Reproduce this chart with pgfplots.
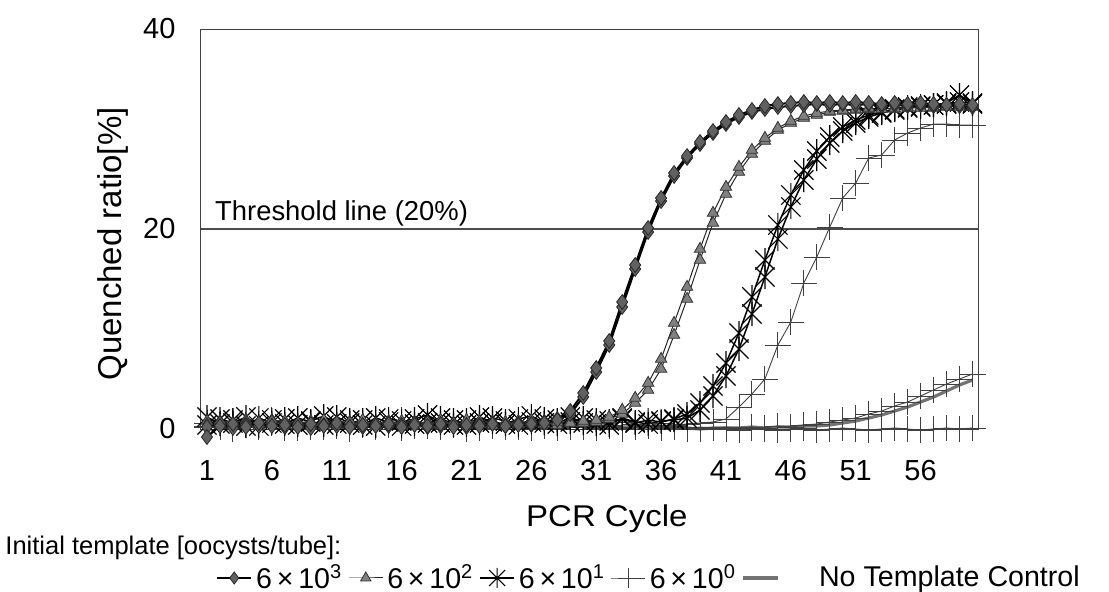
\documentclass[border=0pt]{standalone}
\usepackage{fontspec}
\setmainfont{Liberation Sans}
\usepackage{graphicx}
\usepackage{pgfplots}
\usepackage{pgfplotstable}
\pgfplotsset{compat=1.18}

\pgfdeclareplotmark{xstar}{%
  \pgfpathmoveto{\pgfqpoint{0pt}{\pgfplotmarksize}}%
  \pgfpathlineto{\pgfqpoint{0pt}{-\pgfplotmarksize}}%
  \pgfpathmoveto{\pgfqpoint{-.8\pgfplotmarksize}{.8\pgfplotmarksize}}%
  \pgfpathlineto{\pgfqpoint{.8\pgfplotmarksize}{-.8\pgfplotmarksize}}%
  \pgfpathmoveto{\pgfqpoint{-.8\pgfplotmarksize}{-.8\pgfplotmarksize}}%
  \pgfpathlineto{\pgfqpoint{.8\pgfplotmarksize}{.8\pgfplotmarksize}}%
  \pgfusepathqstroke}

\pgfplotstableread{
c D1 D2 T1 T2 S1 S2 P1 P2 P3 N
1 -0.8 0.2 0.5 0.8 1.2 0.4 0.6 0.3 0.2 0.3
2 0.3 0.6 0.8 0.4 0.5 1.0 0.2 0.5 0.5 0.4
3 0.5 0.1 0.3 0.6 0.9 0.6 0.8 0.1 0.0 0.3
4 0.2 0.4 0.7 0.9 0.3 1.2 0.4 0.4 0.4 0.5
5 0.6 0.3 0.5 0.3 1.1 0.3 0.5 0.2 0.3 0.4
6 0.3 0.7 0.9 0.6 0.6 0.9 0.9 0.6 0.6 0.3
7 0.4 0.2 0.4 0.8 1.0 0.5 0.3 0.3 0.1 0.4
8 0.2 0.5 0.6 0.4 0.4 1.1 0.7 0.1 0.4 0.5
9 0.5 0.1 0.8 0.5 0.8 0.7 0.4 0.5 0.2 0.3
10 0.3 0.4 0.3 0.9 1.3 0.4 0.6 0.2 0.5 0.4
11 0.6 0.3 0.7 0.4 0.5 1.2 0.8 0.4 0.3 0.4
12 0.2 0.6 0.5 0.6 0.9 0.6 0.3 0.3 0.0 0.3
13 0.4 0.2 0.9 0.7 0.4 0.9 0.5 0.6 0.4 0.5
14 0.3 0.5 0.4 0.3 1.1 0.3 0.7 0.2 0.2 0.4
15 0.5 0.3 0.6 0.8 0.7 1.0 0.4 0.4 0.6 0.3
16 0.2 0.4 0.8 0.5 0.3 0.8 0.9 0.1 0.1 0.4
17 0.4 0.6 0.5 0.6 1.0 0.5 0.5 0.5 0.3 0.5
18 0.3 0.2 0.7 0.4 1.4 0.6 0.3 0.3 0.5 0.4
19 0.5 0.3 0.4 0.9 0.6 1.1 0.7 0.2 0.2 0.3
20 0.2 0.5 0.6 0.5 0.9 0.4 0.6 0.6 0.4 0.4
21 0.4 0.2 0.9 0.6 0.4 0.9 0.4 0.4 0.0 0.5
22 0.3 0.4 0.5 0.8 1.2 0.6 0.8 0.1 0.3 0.3
23 0.5 0.6 0.7 0.4 0.7 1.1 0.5 0.3 0.5 0.4
24 0.3 0.3 0.4 0.7 0.5 0.8 0.3 0.5 0.2 0.4
25 0.4 0.5 0.8 0.5 1.0 0.4 0.6 0.2 0.4 0.3
26 0.5 0.4 0.6 0.9 1.3 0.7 0.7 0.4 0.1 0.4
27 0.6 0.7 0.5 0.6 0.6 1.0 0.4 0.3 0.3 0.3
28 0.9 1.0 0.7 0.4 0.9 0.5 0.5 0.1 0.6 0.4
29 1.8 1.5 0.6 0.7 0.7 1.2 0.8 0.5 0.2 0.3
30 3.6 3.2 0.8 0.6 1.1 0.6 0.3 0.2 0.4 0.3
31 6.1 5.7 0.9 0.7 0.5 0.9 0.6 0.4 0.1 0.2
32 8.8 8.4 1.2 1.0 0.8 0.4 0.4 0.3 0.3 0.3
33 12.7 12.2 1.9 1.5 1.0 1.1 0.7 0.1 0.0 0.2
34 16.4 16.0 3.1 2.6 0.6 0.7 0.5 0.2 0.2 0.2
35 20.1 19.7 4.6 3.9 0.9 0.5 0.3 0.3 0.4 0.1
36 23.1 22.8 7.0 6.0 0.7 0.8 0.6 0.1 0.1 0.2
37 25.6 25.3 10.6 9.4 1.0 0.9 0.4 0.2 0.3 0.1
38 27.3 27.1 14.2 13.0 1.5 1.1 0.5 0.1 0.0 0.1
39 28.7 28.5 18.0 16.9 2.6 1.9 0.6 0.0 0.2 0.0
40 29.8 29.6 21.6 20.6 4.3 3.3 0.7 0.1 0.1 0.1
41 30.7 30.5 24.2 23.5 6.6 5.3 1.0 0.2 0.0 0.1
42 31.4 31.2 26.2 25.7 9.6 8.0 2.2 0.1 -0.1 0.1
43 31.9 31.7 27.9 27.5 13.2 11.5 3.5 0.2 0.1 0.2
44 32.3 32.0 29.1 28.8 16.9 15.2 5.0 0.1 0.0 0.1
45 32.5 32.2 30.1 29.9 20.4 19.0 8.4 0.3 -0.1 0.2
46 32.6 32.3 30.8 30.6 23.4 22.2 10.7 0.2 0.0 0.2
47 32.7 32.4 31.3 31.1 25.9 24.9 14.6 0.4 0.1 0.3
48 32.6 32.5 31.6 31.4 27.8 27.0 17.2 0.5 -0.1 0.3
49 32.7 32.4 31.8 31.7 29.2 28.6 20.2 0.7 0.0 0.4
50 32.6 32.5 31.9 31.8 30.2 29.8 23.1 0.9 0.1 0.6
51 32.7 32.4 32.0 31.9 30.9 30.6 24.6 1.1 0.0 0.8
52 32.6 32.5 32.1 32.0 31.4 31.2 27.1 1.5 -0.1 1.1
53 32.5 32.3 32.0 32.1 31.7 31.6 27.4 1.8 0.0 1.4
54 32.6 32.4 32.1 32.0 32.0 31.9 28.9 2.3 0.1 1.8
55 32.5 32.3 32.2 32.1 32.2 32.1 29.6 2.7 0.0 2.2
56 32.6 32.4 32.1 32.2 32.3 32.2 30.1 3.3 -0.1 2.7
57 32.5 32.3 32.2 32.1 32.4 32.4 30.5 3.9 0.0 3.2
58 32.4 32.4 32.3 32.2 32.6 32.5 30.5 4.5 0.1 3.8
59 32.5 32.3 32.2 32.3 33.4 32.7 30.4 5.0 0.0 4.4
60 32.4 32.2 32.3 32.2 32.5 32.6 30.4 5.5 0.1 4.9
}\qpcr

\tikzset{
  dstyle/.style={black, line width=1bp, mark=diamond*, mark size=3.7bp,
    mark options={fill=black!62, draw=black!85, line width=0.4bp}},
  tstyle/.style={black!85, line width=0.5bp, mark=triangle*, mark size=3.3bp,
    mark options={fill=black!50, draw=black!80, line width=0.4bp}},
  sstyle/.style={black, line width=0.75bp, mark=xstar, mark size=6bp,
    mark options={line width=0.6bp}},
  pstyle/.style={black!75, line width=0.45bp, mark=+, mark size=6.5bp,
    mark options={line width=0.45bp}},
  nstyle/.style={black!55, line width=1.6bp},
}

\begin{document}
\begin{tikzpicture}
\useasboundingbox (0,0) rectangle (554.5bp,296bp);
\begin{axis}[
  at={(100.25bp,81.5bp)}, anchor=south west,
  scale only axis, width=389.25bp, height=200bp,
  xmin=0.5, xmax=60.5, ymin=0, ymax=40,
  xtick={1,6,...,56}, ytick={0,20,40},
  major tick length=0pt,
  axis line style={draw=black!75, line width=0.5bp},
  tick label style={font=\fontsize{14.5bp}{17bp}\selectfont},
  xticklabel style={yshift=-11.5bp, text height=10.5bp, text depth=0pt},
  yticklabel style={xshift=-9bp},
  /pgf/number format/assume math mode=true,
  clip=false,
  xlabel={\scalebox{1.1}[1]{PCR Cycle}},
  xlabel style={at={(axis description cs:0.522,-0.225)}, anchor=center,
    font=\fontsize{15bp}{18bp}\selectfont},
  ylabel={Quenched ratio[\%]},
  ylabel style={at={(axis description cs:-0.112,0.4625)}, anchor=center,
    font=\fontsize{16.5bp}{20bp}\selectfont},
  legend style={at={(axis description cs:0.012,-0.3725)}, anchor=west,
    draw=none, fill=none, font=\fontsize{14.3bp}{17bp}\selectfont,
    /tikz/every even column/.append style={column sep=1bp}},
  legend columns=-1,
]
\addlegendimage{dstyle, mark size=3bp}
\addlegendentry{6\,×\,10\textsuperscript{3}}
\addlegendimage{tstyle, mark size=3bp}
\addlegendentry{6\,×\,10\textsuperscript{2}}
\addlegendimage{sstyle, mark size=5bp}
\addlegendentry{6\,×\,10\textsuperscript{1}}
\addlegendimage{pstyle, mark size=5bp}
\addlegendentry{6\,×\,10\textsuperscript{0}}
\addlegendimage{nstyle}
\addlegendentry{\hspace{18bp}No Template Control}

\addplot[forget plot, black!70, line width=0.6bp] coordinates {(0.5,20) (60.5,20)};

\addplot[forget plot, nstyle] table[x=c, y=N] {\qpcr};
\addplot[forget plot, pstyle] table[x=c, y=P3] {\qpcr};
\addplot[forget plot, pstyle] table[x=c, y=P2] {\qpcr};
\addplot[forget plot, pstyle] table[x=c, y=P1] {\qpcr};
\addplot[forget plot, sstyle] table[x=c, y=S2] {\qpcr};
\addplot[forget plot, sstyle] table[x=c, y=S1] {\qpcr};
\addplot[forget plot, tstyle] table[x=c, y=T2] {\qpcr};
\addplot[forget plot, tstyle] table[x=c, y=T1] {\qpcr};
\addplot[forget plot, dstyle] table[x=c, y=D2] {\qpcr};
\addplot[forget plot, dstyle] table[x=c, y=D1] {\qpcr};

\node[anchor=base west, inner sep=0pt, font=\fontsize{13.7bp}{16bp}\selectfont]
  at (axis cs:1.6,20.9) {Threshold line (20\%)};
\node[anchor=west, inner sep=0pt, font=\fontsize{12.75bp}{15bp}\selectfont]
  at (axis description cs:-0.2511,-0.2975) {Initial template [oocysts/tube]:};
\end{axis}
\end{tikzpicture}
\end{document}
